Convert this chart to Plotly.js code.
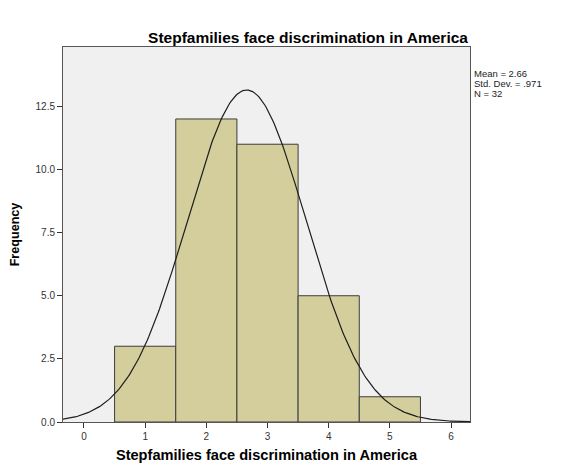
<!DOCTYPE html>
<html><head><meta charset="utf-8">
<script src="https://cdn.plot.ly/plotly-3.0.1.min.js"></script>
<style>html,body{margin:0;padding:0;background:#fff}#c{width:565px;height:465px}</style>
</head><body><div id="c"></div>
<script>
const binCenters = [1, 2, 3, 4, 5];
const frequencies = [3, 12, 11, 5, 1];
const meanVal = 2.66;
const sdVal = 0.971;
const nVal = 32;
const xTicks = [0, 1, 2, 3, 4, 5, 6];
const yTicks = [0, 2.5, 5, 7.5, 10, 12.5];
const yTickLabels = ["0.0", "2.5", "5.0", "7.5", "10.0", "12.5"];
const statLines = ['Mean = ' + meanVal.toFixed(2),
                   'Std. Dev. = ' + sdVal.toFixed(3).replace(/^0/, ''),
                   'N = ' + nVal];

// Fitted normal curve defined by the reported Mean, Std. Dev. and N (bin width 1)
const curveX = [], curveY = [];
for (let i = 0; i <= 300; i++) {
  const x = -0.35 + i * (6.7 / 300);
  curveX.push(x);
  curveY.push(nVal / (sdVal * Math.sqrt(2 * Math.PI)) * Math.exp(-0.5 * Math.pow((x - meanVal) / sdVal, 2)));
}

const data = [
  {type: 'bar', x: binCenters, y: frequencies, width: 1,
   marker: {color: '#d3ce9c', line: {color: '#3c3c3c', width: 1}}, hoverinfo: 'none'},
  {type: 'scatter', mode: 'lines', x: curveX, y: curveY,
   line: {color: '#1e1e1e', width: 1.2}, hoverinfo: 'none'}
];

const plotTop = 47, plotBottom = 422;
function paperY(px) { return (plotBottom - px) / (plotBottom - plotTop); }

const layout = {
  width: 565, height: 465,
  margin: {l: 63, r: 95, t: plotTop, b: 465 - plotBottom},
  paper_bgcolor: '#ffffff', plot_bgcolor: '#f0f0f0',
  showlegend: false, bargap: 0,
  font: {family: 'Arial, Liberation Sans, sans-serif', color: '#333'},
  title: {text: '<b>Stepfamilies face discrimination in America</b>',
          font: {size: 15.5, color: '#000'}, x: 308 / 565, xanchor: 'center', xref: 'container',
          y: 1 - 38 / 465, yanchor: 'middle'},
  xaxis: {range: [-0.343, 6.31], tickvals: xTicks, ticktext: xTicks.map(String),
          ticks: 'outside', ticklen: 5, tickcolor: '#333', tickfont: {size: 10, color: '#333'},
          showgrid: false, zeroline: false, showline: true, linecolor: '#555', linewidth: 1, mirror: true,
          title: {text: '<b>Stepfamilies face discrimination in America</b>', font: {size: 14.6, color: '#000'}, standoff: 8}},
  yaxis: {range: [0, 14.85], tickvals: yTicks, ticktext: yTickLabels,
          ticks: 'outside', ticklen: 5, tickcolor: '#333', tickfont: {size: 10, color: '#333'},
          showgrid: false, zeroline: false, showline: true, linecolor: '#555', linewidth: 1, mirror: true,
          title: {text: '<b>Frequency</b>', font: {size: 12.6, color: '#000'}, standoff: 13}},
  annotations: statLines.map((t, i) => ({
    xref: 'paper', yref: 'paper', x: 1.007, y: paperY(73 + i * 10), xanchor: 'left', yanchor: 'middle',
    showarrow: false, font: {size: 9.5, color: '#222'}, text: t, borderpad: 0
  }))
};
Plotly.newPlot('c', data, layout, {displayModeBar: false, staticPlot: true});
</script></body></html>
